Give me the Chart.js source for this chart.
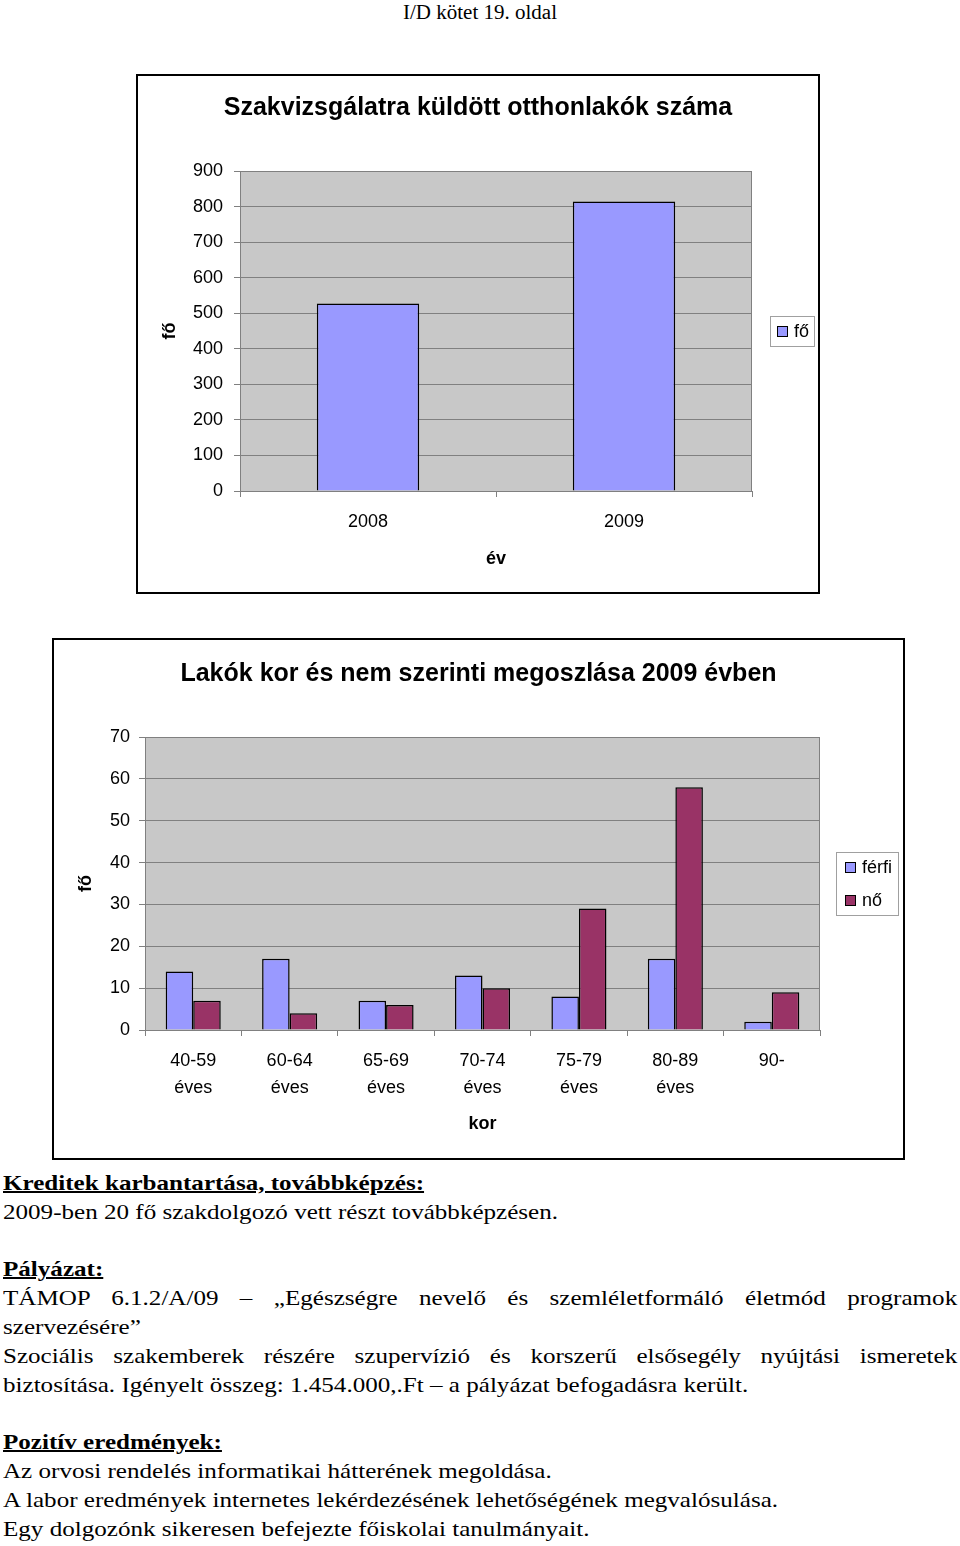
<!DOCTYPE html>
<html>
<head>
<meta charset="utf-8">
<script src="https://cdn.jsdelivr.net/npm/chart.js@4.4.1/dist/chart.umd.min.js"></script>
<style>
  html, body { margin: 0; padding: 0; background: #fff; overflow: hidden; }
  body { width: 960px; height: 1546px; position: relative; }
  .hdr { position: absolute; top: 0; left: 0; width: 960px; text-align: center;
         font: 20px "Liberation Serif", "Times New Roman", serif; line-height: 24px;
         transform: scaleX(1.05); transform-origin: 480px 0; }
  .box { position: absolute; border: 2px solid #000; background: #fff; }
  .box canvas { display: block; }
  .doc { position: absolute; left: 3px; top: 1169px; width: 837px;
         font: 22px "Liberation Serif", "Times New Roman", serif; line-height: 28.8px;
         transform: scaleX(1.14); transform-origin: 0 0; }
  .doc p { margin: 0; }
  .doc .j { text-align: justify; }
  .doc u { text-decoration-thickness: 2px; }
</style>
</head>
<body>
<div class="hdr">I/D kötet 19. oldal</div>

<div class="box" style="left:136px; top:74px;">
  <canvas id="evChart" width="680" height="516"></canvas>
</div>

<div class="box" style="left:52px; top:638px;">
  <canvas id="korChart" width="849" height="518"></canvas>
</div>

<div class="doc">
  <p><u><b>Kreditek karbantartása, továbbképzés:</b></u></p>
  <p>2009-ben 20 fő szakdolgozó vett részt továbbképzésen.</p>
  <p>&nbsp;</p>
  <p><u><b>Pályázat:</b></u></p>
  <p class="j">TÁMOP 6.1.2/A/09 – „Egészségre nevelő és szemléletformáló életmód programok szervezésére”</p>
  <p class="j">Szociális szakemberek részére szupervízió és korszerű elsősegély nyújtási ismeretek biztosítása. Igényelt összeg: 1.454.000,.Ft – a pályázat befogadásra került.</p>
  <p>&nbsp;</p>
  <p><u><b>Pozitív eredmények:</b></u></p>
  <p>Az orvosi rendelés informatikai hátterének megoldása.</p>
  <p>A labor eredmények internetes lekérdezésének lehetőségének megvalósulása.</p>
  <p>Egy dolgozónk sikeresen befejezte főiskolai tanulmányait.</p>
</div>

<script>
// chart 1: szakvizsgálatra küldött lakók évenként
const evek = ['2008', '2009'];
const foSzam = [527, 814];

// chart 2: kor és nem szerinti megoszlás 2009
const korCsoportok = [['40-59', 'éves'], ['60-64', 'éves'], ['65-69', 'éves'], ['70-74', 'éves'],
                      ['75-79', 'éves'], ['80-89', 'éves'], ['90-']];
const ferfi = [14, 17, 7, 13, 8, 17, 2];
const no = [7, 4, 6, 10, 29, 58, 9];

const KEK = '#9999ff';
const BORDO = '#993366';
const PLOT_BG = '#c8c8c8';
const GRID = '#808080';

Chart.defaults.font.family = '"Liberation Sans", Arial, sans-serif';
Chart.defaults.font.size = 18;
Chart.defaults.color = '#000';

// gray plot area with a thin frame
const plotArea = {
  id: 'plotArea',
  beforeDraw(chart) {
    const { ctx, chartArea: a } = chart;
    ctx.save();
    ctx.fillStyle = PLOT_BG;
    ctx.fillRect(a.left, a.top, a.right - a.left, a.bottom - a.top);
    ctx.restore();
  },
  afterDraw(chart) {
    const { ctx, chartArea: a } = chart;
    ctx.save();
    ctx.strokeStyle = GRID;
    ctx.lineWidth = 1;
    ctx.beginPath();
    ctx.moveTo(a.left, a.top + 0.5);
    ctx.lineTo(a.right - 0.5, a.top + 0.5);
    ctx.lineTo(a.right - 0.5, a.bottom);
    ctx.stroke();
    ctx.restore();
  }
};

// Excel style legend: framed box on the right
const boxLegend = {
  id: 'boxLegend',
  afterDraw(chart, args, opts) {
    const { ctx } = chart;
    ctx.save();
    ctx.strokeStyle = '#a0a0a0';
    ctx.lineWidth = 1;
    ctx.strokeRect(opts.x + 0.5, opts.y + 0.5, opts.w, opts.h);
    ctx.font = '18px "Liberation Sans", Arial, sans-serif';
    ctx.textBaseline = 'middle';
    chart.data.datasets.forEach((ds, i) => {
      const cy = opts.firstY + i * opts.rowH;
      ctx.fillStyle = ds.backgroundColor;
      ctx.fillRect(opts.swX, cy - 5, 11, 11);
      ctx.strokeStyle = '#000';
      ctx.strokeRect(opts.swX + 0.5, cy - 4.5, 10, 10);
      ctx.fillStyle = '#000';
      ctx.fillText(ds.label, opts.txtX, cy + 1);
    });
    ctx.restore();
  }
};

function yAxis(max, step, width, pad) {
  return {
    min: 0, max: max,
    ticks: { stepSize: step, padding: pad, font: { size: 18 } },
    grid: { color: GRID, lineWidth: 1, tickLength: 6 },
    border: { color: GRID },
    title: { display: true, text: 'fő', font: { size: 18, weight: 'bold' }, padding: { top: 21 } },
    afterFit(s) { s.width = width; }
  };
}

// empty axis on the right, keeps room for the legend while the title stays centred on the box
function rightSpace(width) {
  return {
    position: 'right',
    ticks: { display: false },
    grid: { display: false },
    border: { display: false },
    afterFit(s) { s.width = width; }
  };
}

function xAxis(title, height, titlePad) {
  return {
    offset: true,
    ticks: { padding: 12, maxRotation: 0, autoSkip: false, font: { size: 18, lineHeight: 1.5 } },
    grid: { offset: true, drawOnChartArea: false, tickLength: 6, color: GRID },
    border: { color: GRID },
    title: { display: true, text: title, font: { size: 18, weight: 'bold' }, padding: { bottom: titlePad } },
    afterFit(s) { s.height = height; }
  };
}

new Chart(document.getElementById('evChart'), {
  type: 'bar',
  data: {
    labels: evek,
    datasets: [{
      label: 'fő',
      data: foSzam,
      backgroundColor: KEK,
      borderColor: '#000',
      borderWidth: 1.5,
      categoryPercentage: 0.4,
      barPercentage: 1
    }]
  },
  options: {
    responsive: false,
    animation: false,
    plugins: {
      legend: { display: false },
      tooltip: { enabled: false },
      title: {
        display: true,
        text: 'Szakvizsgálatra küldött otthonlakók száma',
        font: { size: 25, weight: 'bold' },
        padding: { top: 17, bottom: 48 }
      },
      boxLegend: { x: 632, y: 240, w: 44, h: 30, swX: 639, txtX: 656, firstY: 255, rowH: 0 }
    },
    scales: {
      x: xAxis('év', 101, 22),
      y: yAxis(900, 100, 102, 11),
      jobb: rightSpace(66)
    }
  },
  plugins: [plotArea, boxLegend]
});

new Chart(document.getElementById('korChart'), {
  type: 'bar',
  data: {
    labels: korCsoportok,
    datasets: [{
      label: 'férfi',
      data: ferfi,
      backgroundColor: KEK,
      borderColor: '#000',
      borderWidth: 1.5,
      categoryPercentage: 0.571,
      barPercentage: 1
    }, {
      label: 'nő',
      data: no,
      backgroundColor: BORDO,
      borderColor: '#000',
      borderWidth: 1.5,
      categoryPercentage: 0.571,
      barPercentage: 1
    }]
  },
  options: {
    responsive: false,
    animation: false,
    plugins: {
      legend: { display: false },
      tooltip: { enabled: false },
      title: {
        display: true,
        text: 'Lakók kor és nem szerinti megoszlása 2009 évben',
        font: { size: 25, weight: 'bold' },
        padding: { top: 19, bottom: 48 }
      },
      boxLegend: { x: 782, y: 212, w: 62, h: 63, swX: 791, txtX: 808, firstY: 227, rowH: 33 }
    },
    scales: {
      x: xAxis('kor', 128, 23),
      y: yAxis(70, 10, 91, 9),
      jobb: rightSpace(83)
    }
  },
  plugins: [plotArea, boxLegend]
});
</script>
</body>
</html>
